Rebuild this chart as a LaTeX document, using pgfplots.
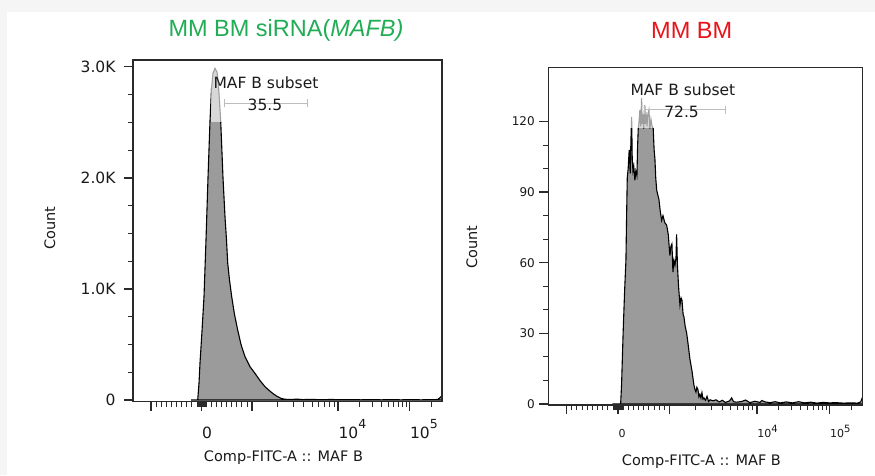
\documentclass[border=0pt]{standalone}
\usepackage{pgfplots}
\pgfplotsset{compat=1.18}
\usepackage{fontspec}
\setmainfont{DejaVu Sans}
\newfontfamily\titlefont{Liberation Sans}
\definecolor{histgray}{HTML}{9B9B9B}
\definecolor{titlegreen}{HTML}{21AD55}
\definecolor{titlered}{HTML}{E8141B}
\definecolor{axisdark}{HTML}{2A2A2A}
\definecolor{gatebar}{HTML}{BDBDBD}
\definecolor{framegray}{HTML}{F5F5F5}
\definecolor{txt}{HTML}{1A1A1A}

\pgfplotsset{flowstyle/.style={
  scale only axis,
  axis line style={axisdark, line width=1.3pt},
  tick align=outside, xtick pos=bottom, ytick pos=left,
  major tick length=9pt, minor tick length=5pt,
  every tick/.style={axisdark},
  major tick style={line width=1.5pt},
  minor tick style={line width=0.9pt},
  xmin=-18, xmax=291,
  xtick={0,50.5,101,187,258.5},
  minor xtick={5.05,10.1,...,45.45, 45.955,46.46,...,55.1, 55.55,60.6,...,96,
    126.9,142.0,152.8,161.1,167.9,173.7,178.7,183.1,
    208.5,221.1,230.0,237.0,242.6,247.4,251.6,255.2,280.0},
  xticklabel style={anchor=north west, xshift=-3pt, text=txt},
  yticklabel style={text=txt},
  axis on top,
  xlabel={Comp-FITC-A :: MAF B},
  ylabel={Count},
  label style={font=\fontsize{14.5}{17}\selectfont, text=txt},
}}

\begin{document}
\begin{tikzpicture}
\fill[framegray] (0pt,0pt) rectangle (875pt,475pt);
\fill[white] (7pt,0pt) rectangle (875pt,463pt);
\coordinate (LSW) at (133pt,73.3pt);
\coordinate (RSW) at (548.3pt,70pt);

% ---------------- left panel ----------------
\begin{axis}[flowstyle,
  at={(LSW)}, anchor=south west,
  width=309pt, height=341.7pt,
  ymin=-15, ymax=3060,
  ytick={0,1000,2000,3000},
  yticklabels={0,1.0K,2.0K,3.0K},
  minor y tick num=3,
  xticklabels={,0,,10\raisebox{0.62em}{\fontsize{12.5}{13}\selectfont 4},10\raisebox{0.62em}{\fontsize{12.5}{13}\selectfont 5}},
  xticklabel style={font=\fontsize{15.5}{18}\selectfont, text height=19pt, yshift=-5pt},
  yticklabel style={font=\fontsize{15.5}{18}\selectfont, xshift=-5pt},
  xlabel style={at={(axis description cs:0.487,-0.165)}, anchor=center},
  ylabel style={at={(axis description cs:-0.269,0.508)}, anchor=center},
]
\addplot[fill=histgray, draw=black, line width=1.1pt] coordinates {
(40,0) (46.7,0) (48,150) (49,333) (51,620) (53,930) (55,1440) (57,2000)
(59,2511) (60.5,2800) (62,2940) (64,2985) (66,2950) (67.5,2830) (69.7,2511)
(72,2000) (74,1650) (75.5,1440) (76.7,1233) (78.5,1080) (80.7,930) (83.5,770)
(86.7,630) (90,500) (94,390) (99,300) (104,240) (109,175) (114,120) (119,80)
(122,58) (125.7,35) (130,15) (134,7) (140,5) (146,8) (152,4) (160,6) (170,3)
(180,5) (190,3) (200,4) (210,2) (220,4) (230,2) (240,3) (250,2) (260,3)
(270,2) (280,3) (287,5) (291,40)
} \closedcycle;
\fill[white, opacity=0.62] (axis cs:59.5,2502) rectangle (axis cs:169,3000);
\draw[gatebar, line width=1.3pt] (axis cs:73.3,2670) -- (axis cs:156.7,2670);
\draw[gatebar, line width=1.3pt] (axis cs:73.3,2634) -- (axis cs:73.3,2706);
\draw[gatebar, line width=1.3pt] (axis cs:156.7,2634) -- (axis cs:156.7,2706);
\node[text=txt, font=\fontsize{15.5}{18}\selectfont] at (axis cs:115,2853) {MAF B subset};
\node[text=txt, font=\fontsize{15.5}{18}\selectfont] at (axis cs:114,2655) {35.5};
\end{axis}

% ---------------- right panel ----------------
\begin{axis}[flowstyle,
  at={(RSW)}, anchor=south west,
  width=314.4pt, height=337.3pt,
  ymin=-0.5, ymax=142.9,
  ytick={0,30,60,90,120},
  yticklabels={0,30,60,90,120},
  minor y tick num=2,
  xticklabels={,0,,10\raisebox{0.42em}{\fontsize{10}{11}\selectfont 4},10\raisebox{0.42em}{\fontsize{10}{11}\selectfont 5}},
  xticklabel style={font=\fontsize{11}{13}\selectfont, text height=12pt, yshift=-8pt},
  yticklabel style={font=\fontsize{12}{14}\selectfont, xshift=-1pt},
  xlabel style={at={(axis description cs:0.487,-0.168)}, anchor=center},
  ylabel style={at={(axis description cs:-0.243,0.468)}, anchor=center},
]
\addplot[fill=histgray, draw=black, line width=1.1pt] coordinates {
(45,0) (53.1,0) (54,8) (55.6,31) (57,48) (58.3,61) (59,81) (59.6,96) (60.5,100)
(61.5,108) (62.5,98) (63.2,112) (63.9,122) (64.5,104) (65.2,99) (66,101)
(67.1,95) (68,99) (69.1,97) (69.8,110) (70.4,117) (71.2,120) (72,125)
(72.8,118) (73.7,130) (74.3,119) (75,123) (75.8,117) (76.5,127) (77.3,119)
(78,124) (79,118) (79.8,123) (80.9,125) (81.8,117) (82.9,121) (84,118)
(85.1,117) (86,108) (86.8,104) (87.6,96) (88.5,91) (89.5,89) (90.7,87)
(92,82) (93.4,78) (94.7,80) (96.5,77) (98.3,76) (99.9,72) (101.5,63)
(102.5,67) (103.5,68) (104.5,56) (105.5,61) (106.5,59) (107.5,62) (108.1,72)
(108.9,59) (110,50) (111.4,42) (112.5,45) (113.4,44) (114.5,38) (115.3,37)
(116.5,33) (118,30) (119.5,25) (121.2,19) (123.2,14) (125.1,8) (126.2,6)
(127.1,5) (128,7) (129.1,6) (130,3) (131,4) (132,2.5) (133,4.7) (134,2)
(135,2.5) (136.5,1.5) (138,3.2) (139.5,1) (141,1.7) (143.8,1.3) (146.8,1.7)
(150,0.8) (153,1.5) (156,0.6) (160,1.2) (162.2,2.5) (164,0.9) (167,0.7)
(172,1) (176,1.6) (180,0.5) (185,1.1) (190,0.6) (192,1.4) (195,0.8) (200,0.5)
(205,0.9) (210,0.4) (216,0.8) (222,0.4) (228,0.9) (234,0.4) (240,0.7)
(246,0.3) (252,0.6) (258,0.4) (265,0.5) (272,0.3) (280,0.4) (286,0.3)
(289,0.8) (291,3)
} \closedcycle;
\fill[white, opacity=0.62] (axis cs:62.2,117.3) rectangle (axis cs:170,138);
\draw[gatebar, line width=1.3pt] (axis cs:77,125) -- (axis cs:156.3,125);
\draw[gatebar, line width=1.3pt] (axis cs:77,123.3) -- (axis cs:77,126.7);
\draw[gatebar, line width=1.3pt] (axis cs:156.3,123.3) -- (axis cs:156.3,126.7);
\node[text=txt, font=\fontsize{15.5}{18}\selectfont] at (axis cs:114.3,133.4) {MAF B subset};
\node[text=txt, font=\fontsize{15.5}{18}\selectfont] at (axis cs:113,124.2) {72.5};
\end{axis}

\node[text=titlegreen, font=\titlefont\fontsize{23.5}{27}\selectfont] at (286pt,445pt) {MM BM siRNA(\textit{MAFB)}};
\node[text=titlered, font=\titlefont\fontsize{23.5}{27}\selectfont] at (691.7pt,445pt) {MM BM};
\end{tikzpicture}
\end{document}
